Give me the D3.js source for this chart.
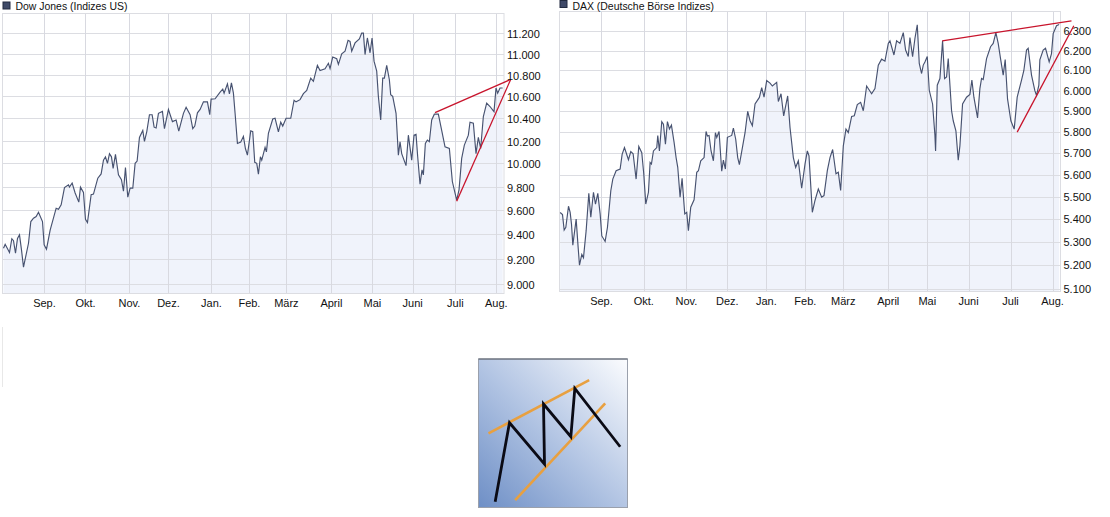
<!DOCTYPE html>
<html><head><meta charset="utf-8">
<script src="https://cdnjs.cloudflare.com/ajax/libs/d3/7.8.5/d3.min.js"></script>
<style>
html,body{margin:0;padding:0;background:#fff}
svg{display:block}
text{font-family:"Liberation Sans",Arial,sans-serif;font-size:11px;fill:#111}
</style></head><body><div id="c"></div>
<script>
const months=["Sep.","Okt.","Nov.","Dez.","Jan.","Feb.","März","April","Mai","Juni","Juli","Aug."];
const dowTitle="Dow Jones (Indizes US)";
const daxTitle="DAX (Deutsche Börse Indizes)";
const dowMonthPos=[133,256,388,505,634,748,859,994,1117,1238,1366,1489];
const daxMonthPos=[154,281,409,532,649,766,880,1015,1132,1256,1382,1508];
const dowTicks=[9000,9200,9400,9600,9800,10000,10200,10400,10600,10800,11000,11200];
const daxTicks=[5100,5200,5300,5400,5500,5600,5700,5800,5900,6000,6100,6200,6300];

const dowT=[10,15,28,35,40,46,52,58,64,70,85,92,100,108,115,127,132,139,150,168,175,183,193,205,208,216,225,236,241,250,256,262,273,280,293,303,310,316,322,328,334,339,346,355,364,370,376,383,390,398,405,411,418,428,433,440,448,456,462,468,475,487,493,505,517,528,536,550,558,570,578,584,592,600,610,622,629,633,645,660,668,672,682,688,694,700,705,712,722,730,736,742,752,758,764,770,775,781,785,795,799,805,818,825,835,842,848,858,872,882,888,900,910,920,932,940,952,960,975,985,990,998,1010,1015,1025,1035,1044,1050,1055,1065,1078,1085,1090,1095,1102,1110,1116,1122,1130,1135,1142,1148,1153,1160,1168,1172,1178,1188,1195,1200,1205,1218,1225,1235,1242,1248,1253,1260,1266,1270,1276,1282,1288,1295,1303,1315,1325,1335,1348,1357,1370,1377,1385,1393,1405,1410,1420,1428,1435,1442,1450,1460,1470,1482,1488,1493,1500,1508];
const dowV=[9288,9320,9253,9365,9349,9248,9368,9397,9275,9136,9328,9506,9534,9548,9583,9506,9315,9280,9436,9617,9608,9645,9791,9815,9795,9830,9745,9668,9795,9750,9525,9497,9730,9736,9872,9908,10028,10057,10000,10084,10057,9957,10078,9900,9858,9760,9963,9710,9786,9786,10000,10020,10228,10290,10193,10280,10432,10432,10320,10312,10445,10462,10306,10480,10370,10385,10285,10445,10500,10432,10306,10330,10450,10480,10550,10550,10432,10575,10578,10640,10668,10630,10716,10622,10725,10630,10445,10175,10188,10238,10130,10072,10288,10280,10009,10000,9906,10057,10028,10140,10100,10265,10393,10400,10278,10365,10330,10400,10400,10565,10550,10570,10625,10655,10770,10740,10890,10842,10858,10910,10860,10970,10953,10900,11000,11025,11130,11120,11025,11105,11143,11200,11200,10993,11153,11010,11153,10930,10835,10600,10385,10770,10770,10890,10755,10615,10600,10445,10072,10188,10085,9980,10248,10028,10248,10255,10057,9820,9943,9900,10175,10205,10190,10385,10437,10437,10292,10145,10130,9843,9685,9772,10043,10160,10248,10365,10355,10085,10228,10130,10415,10538,10507,10460,10678,10630,10678,10678];

const daxT=[30,37,42,47,55,60,64,68,78,84,88,95,100,108,116,122,130,136,143,150,155,165,172,182,188,198,210,216,223,235,242,249,258,266,275,281,287,295,300,304,310,320,323,328,335,340,346,352,358,364,372,378,383,390,396,404,410,415,422,432,440,445,452,462,468,472,477,483,490,496,500,507,515,520,526,532,545,550,557,563,568,578,585,593,600,607,615,628,635,642,650,660,667,680,685,693,701,713,720,730,737,745,755,765,772,777,787,795,805,815,822,832,840,848,858,865,872,880,888,895,905,913,922,932,940,950,965,975,985,995,1005,1015,1020,1032,1040,1050,1060,1067,1075,1080,1088,1095,1102,1108,1115,1120,1125,1132,1138,1148,1155,1157,1162,1170,1178,1184,1190,1195,1205,1210,1218,1225,1230,1238,1250,1260,1266,1272,1283,1290,1295,1300,1310,1322,1330,1338,1345,1352,1360,1366,1373,1383,1393,1402,1415,1422,1430,1435,1445,1455,1460,1467,1470,1480,1487,1498,1505,1510,1520,1528];
const daxV=[5430,5421,5353,5365,5458,5431,5379,5287,5401,5277,5201,5247,5233,5350,5516,5409,5521,5468,5516,5424,5327,5303,5365,5528,5581,5619,5627,5695,5727,5670,5708,5698,5581,5732,5703,5604,5468,5521,5657,5650,5711,5727,5784,5711,5850,5838,5743,5850,5815,5833,5751,5680,5635,5499,5585,5424,5431,5350,5454,5487,5612,5619,5665,5680,5803,5781,5784,5711,5665,5797,5775,5803,5617,5668,5627,5775,5784,5819,5766,5680,5647,5735,5797,5899,5854,5830,5935,5967,6015,5968,6050,6037,6023,6041,5947,5985,5877,5974,5822,5680,5635,5665,5539,5650,5711,5688,5431,5484,5536,5499,5506,5620,5680,5718,5605,5612,5529,5735,5814,5798,5875,5878,5932,5943,5902,6023,5985,6010,6127,6157,6147,6237,6250,6178,6250,6237,6292,6203,6170,6267,6170,6262,6333,6136,6085,6127,6143,6170,6002,5935,5785,5711,6027,6060,6250,6060,6068,6160,5902,5854,5806,5668,5735,5935,5968,5982,6052,5968,5868,6010,6060,6055,6160,6220,6237,6292,6237,6160,6077,6155,5960,5854,5814,5968,6052,6100,6203,6212,6077,6000,5977,6027,6153,6203,6212,6143,6185,6287,6328,6334];

const dowTrend=[[[1305,10452],[1532,10757]],[[1370,9675],[1532,10757]]];
const daxTrend=[[[1177,6250],[1565,6353]],[[1402,5800],[1572,6328]]];

const iconPath=[[75,455],[118,218],[223,342],[220,162],[302,260],[314,115],[450,290]];
const iconLines=[[[55,250],[357,90]],[[135,450],[405,160]]];

const W=1110,H=517;
const svg=d3.select("#c").append("svg").attr("width",W).attr("height",H);
const defs=svg.append("defs");

function panel(o){
  const x=d3.scaleLinear().domain(o.tDom).range([o.l,o.r]);
  const y=d3.scaleLog().domain(o.vDom).range([o.b,o.t]);
  const g=svg.append("g");
  const data=o.T.map((t,i)=>[t,o.V[i]]);
  g.append("path").attr("d",d3.area().x(d=>x(d[0])).y0(o.b).y1(d=>y(d[1]))(data)).attr("fill","#f0f3fb");
  g.append("g").selectAll("line").data(o.ticks).join("line")
    .attr("x1",o.l).attr("x2",o.r)
    .attr("y1",d=>Math.round(y(d))+.5).attr("y2",d=>Math.round(y(d))+.5)
    .attr("stroke","#dcdde2");
  g.append("g").selectAll("line").data(o.mpos).join("line")
    .attr("y1",o.t).attr("y2",o.b)
    .attr("x1",d=>Math.round(x(d))+.5).attr("x2",d=>Math.round(x(d))+.5)
    .attr("stroke","#d8d9e0");
  g.append("rect").attr("x",o.l).attr("y",o.t).attr("width",o.r-o.l).attr("height",o.b-o.t)
    .attr("fill","none").attr("stroke","#dcdde2");
  g.append("path").attr("d",d3.line().x(d=>x(d[0])).y(d=>y(d[1]))(data))
    .attr("fill","none").attr("stroke","#475270").attr("stroke-width",1.15);
  o.trend.forEach(s=>{
    g.append("path").attr("d",d3.line().x(d=>x(d[0])).y(d=>y(d[1]))(s))
      .attr("fill","none").attr("stroke","#c8142c").attr("stroke-width",1.3);
  });
  g.append("g").selectAll("text").data(o.ticks).join("text")
    .attr("x",o.r+o.labelGap).attr("y",d=>y(d)+o.labelDy).text(d=>d3.format(",")(d).replace(",","."));
  g.append("g").selectAll("text").data(o.mpos).join("text")
    .attr("x",d=>x(d)).attr("y",o.b+13.5).attr("text-anchor","middle").text((d,i)=>months[i]);
  g.append("rect").attr("x",o.l+.5).attr("y",o.legY).attr("width",7).attr("height",7)
    .attr("fill","#3f4a68").attr("stroke","#222b40");
  g.append("text").attr("x",o.l+13).attr("y",o.legY+o.titleDy).style("font-size","10.45px").text(o.title);
}

panel({l:2.5,r:504,t:13.5,b:293.5,tDom:[7,1512],vDom:[8929,11393],T:dowT,V:dowV,ticks:dowTicks,mpos:dowMonthPos,trend:dowTrend,title:dowTitle,labelGap:3,labelDy:5,legY:2,titleDy:8});
panel({l:559.5,r:1060.5,t:11.5,b:291.5,tDom:[28,1532],vDom:[5090,6402],T:daxT,V:daxV,ticks:daxTicks,mpos:daxMonthPos,trend:daxTrend,title:daxTitle,labelGap:3,labelDy:4,legY:0.5,titleDy:9});

svg.append("line").attr("x1",2.5).attr("x2",2.5).attr("y1",327).attr("y2",387).attr("stroke","#e8e8e8");

const gr=defs.append("linearGradient").attr("id","ig").attr("x1","0").attr("y1","1").attr("x2","1").attr("y2","0");
gr.append("stop").attr("offset","0").attr("stop-color","#6e8fc6");
gr.append("stop").attr("offset","0.5").attr("stop-color","#b4c6e4");
gr.append("stop").attr("offset","1").attr("stop-color","#fbfcfe");
const ix=d3.scaleLinear().domain([25,472]).range([478.5,627.5]);
const iy=d3.scaleLinear().domain([27,472]).range([359,507.5]);
const ig=svg.append("g");
ig.append("rect").attr("x",ix(25)).attr("y",iy(27)).attr("width",ix(472)-ix(25)).attr("height",iy(472)-iy(27))
  .attr("fill","url(#ig)").attr("stroke","#9aa0ac");
ig.append("line").attr("x1",ix(25)).attr("x2",ix(472)).attr("y1",iy(27)).attr("y2",iy(27)).attr("stroke","#555b66").attr("stroke-width",1);
const il=d3.line().x(d=>ix(d[0])).y(d=>iy(d[1]));
iconLines.forEach(s=>ig.append("path").attr("d",il(s)).attr("fill","none").attr("stroke","#e8a040").attr("stroke-width",2.6));
ig.append("path").attr("d",il(iconPath)).attr("fill","none").attr("stroke","#0a0a14").attr("stroke-width",2.8).attr("stroke-linejoin","miter");
</script></body></html>
